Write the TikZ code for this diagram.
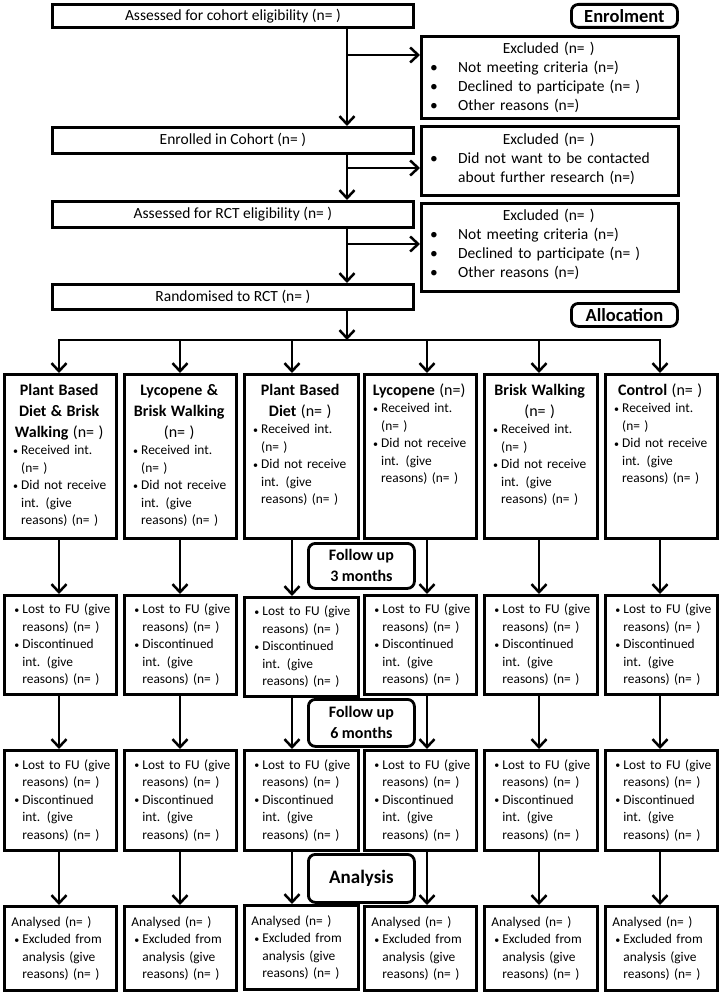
\documentclass[tikz,border=0pt]{standalone}
\usepackage{fontspec}
\setmainfont{Carlito}
\usetikzlibrary{arrows.meta}
\newcommand\bodyfnt{\fontsize{13.4}{17.5}\selectfont}
\newcommand\topfnt{\fontsize{15.5}{19}\selectfont}
\newcommand\ttlfnt{\fontsize{16}{21}\selectfont\bfseries}
\newcommand\lblfnt{\fontsize{18.5}{22}\selectfont\bfseries}
\newcommand\smbul{\raisebox{0.5pt}{\fontsize{10}{10}\selectfont •}}
\newcommand\bitm{\hspace*{6pt}\makebox[8pt][l]{\smbul}}
\newcommand\citm{\hspace*{14pt}}
\newcommand\xbul{\makebox[28pt][l]{•}}
\newcommand\tnrm[1]{{\mdseries #1}}
\newcommand\ttl[1]{{\ttlfnt\centering #1\par}}
\newcommand\recv{\bitm Received int.\\\citm (n= )\\\bitm Did not receive\\\citm int. (give\\\citm reasons) (n= )}
\newcommand\lost{\bitm Lost to FU (give\\\citm reasons) (n= )\\\bitm Discontinued\\\citm int. (give\\\citm reasons) (n= )}
\newcommand\anl{\hspace*{3pt}Analysed (n= )\\\bitm Excluded from\\\citm analysis (give\\\citm reasons) (n= )}
\tikzset{
  box/.style={draw, line width=2.8pt, inner sep=0pt, anchor=north west},
  lbl/.style={draw, line width=2.8pt, rounded corners=7pt, inner sep=0pt, anchor=north west, align=center},
  arr/.style={line width=2.5pt, -{Straight Barb[length=8pt,width=15pt]}},
  arrb/.style={line width=2.5pt, {Straight Barb[length=8pt,width=15pt]}-{Straight Barb[length=8pt,width=15pt]}},
  exct/.style={anchor=base west, text width=237pt, inner sep=0pt, font=\topfnt},
  r1t/.style={anchor=base west, inner sep=0pt, font=\bodyfnt},
  rbox/.style={box, inner xsep=4pt, font=\bodyfnt},
}
\begin{document}
\begin{tikzpicture}[x=1pt,y=-1pt]
\useasboundingbox (0,0) rectangle (718,992);
% top section
\node[box, minimum width=361pt, minimum height=23pt, font=\topfnt] (A1) at (51,3) {Assessed for cohort eligibility (n= )};
\node[lbl, minimum width=106pt, minimum height=23pt, font=\lblfnt] (EN) at (570,3) {Enrolment};
\node[box, minimum width=257pt, minimum height=82pt] (E1) at (420,35) {};
\node[exct] (E1t) at (430,54) {{\centering Excluded (n= )\par}\xbul Not meeting criteria (n=)\\\xbul Declined to participate (n= )\\\xbul Other reasons (n=)};
\node[box, minimum width=361pt, minimum height=26pt, font=\topfnt] (A2) at (51,126) {Enrolled in Cohort (n= )};
\node[box, minimum width=257pt, minimum height=69pt] (E2) at (420,125) {};
\node[exct] (E2t) at (430,145) {{\centering Excluded (n= )\par}\xbul Did not want to be contacted\\\hspace*{28pt}about further research (n=)};
\node[box, minimum width=361pt, minimum height=26pt, font=\topfnt] (A3) at (51,200) {Assessed for RCT eligibility (n= )};
\node[box, minimum width=257pt, minimum height=88pt] (E3) at (420,202) {};
\node[exct] (E3t) at (430,221) {{\centering Excluded (n= )\par}\xbul Not meeting criteria (n=)\\\xbul Declined to participate (n= )\\\xbul Other reasons (n=)};
\node[box, minimum width=361pt, minimum height=25pt, font=\topfnt] (A4) at (51,283) {Randomised to RCT (n= )};
\node[lbl, minimum width=106pt, minimum height=23pt, font=\lblfnt] (AL) at (570,302) {Allocation};
% trunk
\coordinate (tk) at (347,0);
\coordinate (b1) at (347,55);
\coordinate (b2) at (347,168);
\coordinate (b3) at (347,244);
\coordinate (bar) at (0,340);
\draw[arr] (A1.south -| tk) -- (A2.north -| tk);
\draw[arr] (b1) -- (b1 -| E1.west);
\draw[arr] (A2.south -| tk) -- (A3.north -| tk);
\draw[arr] (b2) -- (b2 -| E2.west);
\draw[arr] (A3.south -| tk) -- (A4.north -| tk);
\draw[arr] (b3) -- (b3 -| E3.west);
\draw[arr] (A4.south -| tk) -- (tk |- bar);
% columns row 1
\node[box, minimum width=112pt, minimum height=164pt] (R1a) at (3,373) {};
\node[box, minimum width=112pt, minimum height=164pt] (R1b) at (123,373) {};
\node[box, minimum width=114pt, minimum height=164pt] (R1c) at (243,373) {};
\node[box, minimum width=112pt, minimum height=164pt] (R1d) at (363,373) {};
\node[box, minimum width=113pt, minimum height=164pt] (R1e) at (483,373) {};
\node[box, minimum width=112pt, minimum height=164pt] (R1f) at (604,373) {};
\node[r1t, text width=104pt] (T1a) at (7,395) {\ttl{Plant Based\\Diet \& Brisk\\Walking \tnrm{(n= )}}\recv};
\node[r1t, text width=104pt] (T1b) at (127,395) {\ttl{Lycopene \&\\Brisk Walking\\\tnrm{(n= )}}\recv};
\node[r1t, text width=106pt] (T1c) at (247,395) {\ttl{Plant Based\\Diet \tnrm{(n= )}}\recv};
\node[r1t, text width=104pt] (T1d) at (367,395) {\ttl{Lycopene \tnrm{(n=)}}\recv};
\node[r1t, text width=105pt] (T1e) at (487,395) {\ttl{Brisk Walking\\\tnrm{(n= )}}\recv};
\node[r1t, text width=104pt] (T1f) at (608,395) {\ttl{Control \tnrm{(n= )}}\recv};
% arrow x positions
\coordinate (x1) at (59,0);
\coordinate (x2) at (180,0);
\coordinate (x3) at (292,0);
\coordinate (x4) at (427,0);
\coordinate (x5) at (539,0);
\coordinate (x6) at (660,0);
\draw[arrb] (R1a.north -| x1) -- (x1 |- bar) -- (x6 |- bar) -- (R1f.north -| x6);
\draw[arr] (x2 |- bar) -- (R1b.north -| x2);
\draw[arr] (x3 |- bar) -- (R1c.north -| x3);
\draw[arr] (x4 |- bar) -- (R1d.north -| x4);
\draw[arr] (x5 |- bar) -- (R1e.north -| x5);
% row 2
\node[rbox, text width=104pt, minimum height=99pt] (R2a) at (3,594) {\lost};
\node[rbox, text width=104pt, minimum height=99pt] (R2b) at (123,594) {\lost};
\node[rbox, text width=106pt, minimum height=99pt] (R2c) at (243,596) {\lost};
\node[rbox, text width=104pt, minimum height=99pt] (R2d) at (363,594) {\lost};
\node[rbox, text width=105pt, minimum height=99pt] (R2e) at (483,594) {\lost};
\node[rbox, text width=104pt, minimum height=99pt] (R2f) at (604,594) {\lost};
\node[lbl, minimum width=106pt, minimum height=45pt, font=\ttlfnt] (FU3) at (307,542) {Follow up\\3 months};
% row 3
\node[rbox, text width=104pt, minimum height=100pt] (R3a) at (3,749) {\lost};
\node[rbox, text width=104pt, minimum height=100pt] (R3b) at (123,749) {\lost};
\node[rbox, text width=106pt, minimum height=100pt] (R3c) at (243,749) {\lost};
\node[rbox, text width=104pt, minimum height=100pt] (R3d) at (363,749) {\lost};
\node[rbox, text width=105pt, minimum height=100pt] (R3e) at (483,749) {\lost};
\node[rbox, text width=104pt, minimum height=100pt] (R3f) at (604,749) {\lost};
\node[lbl, minimum width=106pt, minimum height=47pt, font=\ttlfnt] (FU6) at (307,698) {Follow up\\6 months};
% row 4
\node[rbox, text width=104pt, minimum height=84pt] (R4a) at (3,905) {\anl};
\node[rbox, text width=104pt, minimum height=84pt] (R4b) at (123,905) {\anl};
\node[rbox, text width=106pt, minimum height=84pt] (R4c) at (243,904) {\anl};
\node[rbox, text width=104pt, minimum height=84pt] (R4d) at (363,905) {\anl};
\node[rbox, text width=105pt, minimum height=84pt] (R4e) at (483,905) {\anl};
\node[rbox, text width=104pt, minimum height=84pt] (R4f) at (604,905) {\anl};
\node[lbl, minimum width=106pt, minimum height=48pt, font=\fontsize{19}{22}\selectfont\bfseries] (AN) at (307,853) {Analysis};
% vertical connectors
\foreach \c/\k in {a/1,b/2,c/3,d/4,e/5,f/6}{
  \draw[arr] (R1\c.south -| x\k) -- (R2\c.north -| x\k);
  \draw[arr] (R2\c.south -| x\k) -- (R3\c.north -| x\k);
  \draw[arr] (R3\c.south -| x\k) -- (R4\c.north -| x\k);
}
\end{tikzpicture}
\end{document}
